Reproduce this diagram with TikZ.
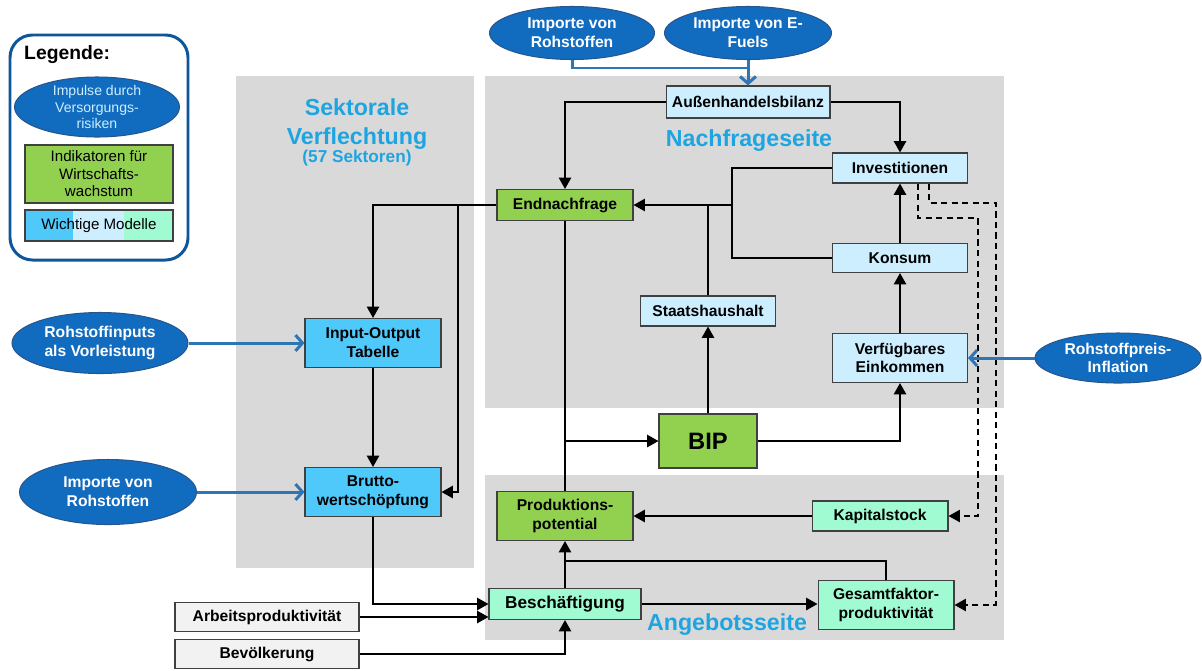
\documentclass[tikz,border=0pt]{standalone}
\usepackage{fontspec}
\setmainfont{Liberation Sans}
\usetikzlibrary{arrows.meta,shapes.geometric}

\definecolor{panelgrau}{RGB}{217,217,217}
\definecolor{titelblau}{RGB}{30,165,225}
\definecolor{impulsblau}{RGB}{17,108,192}
\definecolor{impulsrand}{RGB}{40,85,140}
\definecolor{pfeilblau}{RGB}{46,117,182}
\definecolor{indgruen}{RGB}{146,208,80}
\definecolor{modblau}{RGB}{79,200,250}
\definecolor{modhell}{RGB}{204,238,255}
\definecolor{modmint}{RGB}{160,250,210}
\definecolor{exogen}{RGB}{242,242,242}

\tikzset{
  kasten/.style={draw=black!75, line width=0.6pt, minimum width=2.72cm, minimum height=0.6cm,
    inner sep=2pt, align=center},
  indikator/.style={kasten, fill=indgruen},
  iomodell/.style={kasten, fill=modblau},
  nachfrage/.style={kasten, fill=modhell},
  angebot/.style={kasten, fill=modmint},
  extern/.style={kasten, fill=exogen, minimum width=3.68cm, minimum height=0.58cm},
  impuls/.style={ellipse, draw=impulsrand, line width=0.6pt, fill=impulsblau, text=white,
    inner sep=0pt, align=center},
  titel/.style={text=titelblau, align=center, font=\fontsize{13.2}{16.5}\selectfont\bfseries},
  pfeil/.style={line width=1.1pt, -{Triangle[length=6.5pt,width=7pt]}},
  linie/.style={line width=1.1pt},
  dpfeil/.style={line width=0.9pt, dash pattern=on 3.5pt off 2.5pt, -{Triangle[length=6.5pt,width=7pt]}},
  bpfeil/.style={pfeilblau, line width=1.7pt, -{Straight Barb[length=4pt,width=9pt]}},
  blinie/.style={pfeilblau, line width=1.7pt}
}

\begin{document}
\begin{tikzpicture}[x=0.02cm, y=-0.02cm, font=\fontsize{8.9}{10.7}\selectfont\bfseries]

      \useasboundingbox (0,0) rectangle (1202,670);

      % graue Bereiche
      \fill[panelgrau] (236,76) rectangle (474,568);
      \fill[panelgrau] (485,76) rectangle (1004,408);
      \fill[panelgrau] (485,475) rectangle (1004,640);

      % Bereichstitel
      \node[titel] (tsekt) at (357,124) {Sektorale\\Verflechtung};
      \node[text=titelblau, font=\fontsize{9.8}{12}\selectfont\bfseries] (tsub) at (357,158) {(57 Sektoren)};
      \node[titel] (tnach) at (749,141) {Nachfrageseite};
      \node[titel] (tang) at (727,625) {Angebotsseite};

      % Legende
      \draw[impulsblau!80!black, line width=1.7pt, rounded corners=0.45cm] (10,35) rectangle (188,260);
      \node[anchor=west, font=\fontsize{11}{13}\selectfont\bfseries] (legtitel) at (18,55) {Legende:};
      \node[impuls, font=\fontsize{8}{9.6}\selectfont, text=modhell, inner ysep=-2pt,
        minimum width=3.3cm, minimum height=1.2cm] (legimp) at (97,107) {Impulse durch\\Versorgungs-\\risiken};
      \node[kasten, fill=indgruen, font=\fontsize{8.6}{10}\selectfont, minimum width=2.96cm,
        minimum height=1.16cm] (legind) at (99,174) {Indikatoren für\\Wirtschafts-\\wachstum};
      \fill[modblau] (25,210) rectangle (73,241);
      \fill[modhell] (73,210) rectangle (124,241);
      \fill[modmint] (124,210) rectangle (173,241);
      \node[kasten, font=\fontsize{8.6}{10}\selectfont, minimum width=2.96cm,
        minimum height=0.62cm] (legmod) at (99,225.5) {Wichtige Modelle};

      % Impulse (Ellipsen)
      \node[impuls, minimum width=3.3cm, minimum height=1.06cm] (impRoh) at (572,33) {Importe von\\Rohstoffen};
      \node[impuls, minimum width=3.34cm, minimum height=1.06cm] (impFuel) at (748,33) {Importe von E-\\Fuels};
      \node[impuls, minimum width=3.52cm, minimum height=1.22cm] (rohInput) at (100,343) {Rohstoffinputs\\als Vorleistung};
      \node[impuls, minimum width=3.54cm, minimum height=1.3cm] (impRohL) at (108,492) {Importe von\\Rohstoffen};
      \node[impuls, minimum width=3.32cm, minimum height=1.0cm] (preis) at (1118,358) {Rohstoffpreis-\\Inflation};

      % Sektorale Verflechtung
      \node[iomodell, minimum height=0.98cm] (iot) at (373,343) {Input-Output\\Tabelle};
      \node[iomodell, minimum height=0.98cm] (bws) at (373,492) {Brutto-\\wertschöpfung};

      % Nachfrageseite
      \node[nachfrage, minimum width=3.28cm, minimum height=0.64cm] (aussen) at (748,102) {Außenhandelsbilanz};
      \node[nachfrage, minimum width=2.7cm] (invest) at (900,168) {Investitionen};
      \node[indikator, minimum height=0.62cm] (endn) at (565,205) {Endnachfrage};
      \node[nachfrage, minimum width=2.7cm, minimum height=0.58cm] (konsum) at (900,258) {Konsum};
      \node[nachfrage, minimum width=2.7cm] (staat) at (708,311) {Staatshaushalt};
      \node[nachfrage, minimum width=2.7cm, minimum height=0.98cm] (einkommen) at (900,358) {Verfügbares\\Einkommen};
      \node[indikator, minimum width=1.96cm, minimum height=1.08cm,
        font=\fontsize{13.5}{16}\selectfont\bfseries] (bip) at (708,441) {BIP};

      % Angebotsseite
      \node[indikator, minimum height=0.98cm] (prodpot) at (565,516) {Produktions-\\potential};
      \node[angebot] (kapital) at (880,516) {Kapitalstock};
      \node[angebot, minimum height=0.98cm] (tfp) at (886,605) {Gesamtfaktor-\\produktivität};
      \node[angebot, minimum width=3.04cm, minimum height=0.62cm,
        font=\fontsize{9.8}{11}\selectfont\bfseries] (besch) at (565,604) {Beschäftigung};

      % exogene Größen
      \node[extern] (arbeit) at (267,617) {Arbeitsproduktivität};
      \node[extern] (bevoelk) at (267,654) {Bevölkerung};

      % Hilfspunkte
      \coordinate (jInv) at (732,205);
      \coordinate (jEnd) at (458,205);
      \coordinate (jBip) at (565,441);
      \coordinate (jTfp) at (565,561);
      \coordinate (jImp) at (748,68);
      \coordinate (dKap) at (978,218);
      \coordinate (dTfp) at (996,203);

      % Nachfrage-Pfeile
      \draw[pfeil] (aussen.west) -| (endn.north);
      \draw[pfeil] (aussen.east) -| (invest.north);
      \draw[pfeil] (invest.west) -| (jInv) -- (endn.east);
      \draw[linie] (konsum.west) -| (jInv);
      \draw[linie] (staat.north) -- (staat.north |- endn.east);
      \draw[pfeil] (einkommen) -- (konsum);
      \draw[pfeil] (konsum) -- (invest);
      \draw[pfeil] (bip.north) -- (staat.south);
      \draw[pfeil] (bip.east) -| (einkommen.south);

      % Endnachfrage nach links und unten
      \draw[pfeil] (endn.west) -| (iot.north);
      \draw[pfeil] (jEnd) |- (bws.east);
      \draw[pfeil] (iot) -- (bws);
      \draw[linie] (endn.south) -- (prodpot.north);
      \draw[pfeil] (jBip) -- (bip.west);

      % Angebot
      \draw[pfeil] (bws.south) |- (besch.west);
      \draw[pfeil] (arbeit.east) -- (arbeit.east -| besch.west);
      \draw[pfeil] (bevoelk.east) -| (besch.south);
      \draw[pfeil] (besch.north) -- (prodpot.south);
      \draw[linie] (tfp.north) |- (jTfp);
      \draw[pfeil] (besch.east) -- (besch.east -| tfp.west);
      \draw[pfeil] (kapital.west) -- (prodpot.east);

      % gestrichelte Rückkopplung der Investitionen
      \draw[dpfeil] ([xshift=0.36cm]invest.south) |- (dKap) |- (kapital.east);
      \draw[dpfeil] ([xshift=0.58cm]invest.south) |- (dTfp) |- (tfp.east);

      % blaue Impulspfeile
      \draw[blinie] (impRoh.south) |- (jImp);
      \draw[bpfeil] (impFuel.south) -- (aussen.north);
      \draw[bpfeil] (rohInput.east) -- (iot.west);
      \draw[bpfeil] (impRohL.east) -- (bws.west);
      \draw[bpfeil] (preis.west) -- (einkommen.east);

    \end{tikzpicture}
\end{document}
